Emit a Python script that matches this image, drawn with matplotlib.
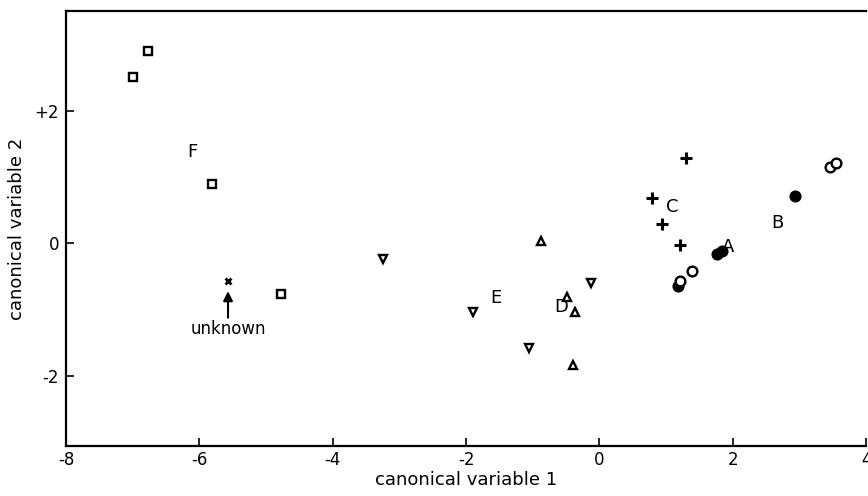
import matplotlib
matplotlib.use("Agg")
import matplotlib.pyplot as plt

matplotlib.rcParams['font.family'] = ['DejaVu Sans']
matplotlib.rcParams['axes.unicode_minus'] = False

# group F: open squares
sq_x = [-6.77, -6.99, -5.81, -4.78]
sq_y = [2.90, 2.51, 0.89, -0.77]

# group E: down triangles
tri_dn_x = [-3.25, -1.89, -1.06, -0.13]
tri_dn_y = [-0.24, -1.04, -1.58, -0.60]

# group D: up triangles
tri_up_x = [-0.87, -0.48, -0.36, -0.40]
tri_up_y = [0.03, -0.81, -1.04, -1.83]

# group C: plus
plus_x = [1.30, 0.78, 0.93, 1.21]
plus_y = [1.29, 0.69, 0.29, -0.02]

# groups A/B: filled and open circles
filled_x = [1.18, 1.76, 1.84, 2.93]
filled_y = [-0.64, -0.16, -0.12, 0.71]
open_x = [1.20, 1.39, 3.45, 3.55]
open_y = [-0.57, -0.42, 1.15, 1.21]

# unknown specimen
unk_x = [-5.57]
unk_y = [-0.57]

# group labels
lab_text = ['F', 'E', 'D', 'C', 'A', 'B']
lab_x = [-6.1, -1.56, -0.57, 1.09, 1.93, 2.66]
lab_y = [1.37, -0.83, -0.96, 0.54, -0.06, 0.30]

fig = plt.figure(figsize=(8.68, 4.96), dpi=100)
ax = fig.add_axes([0.076, 0.101, 0.922, 0.877])

kw = dict(linestyle='none', color='black', markeredgewidth=1.7)
ax.plot(sq_x, sq_y, marker='s', markersize=5.5, markerfacecolor='white', **kw)
ax.plot(tri_dn_x, tri_dn_y, marker='v', markersize=6, markerfacecolor='white', **kw)
ax.plot(tri_up_x, tri_up_y, marker='^', markersize=6, markerfacecolor='white', **kw)
ax.plot(plus_x, plus_y, marker='+', markersize=8, markeredgewidth=2.2,
        linestyle='none', color='black')
ax.plot(filled_x, filled_y, marker='o', markersize=7, markerfacecolor='black', **kw)
ax.plot(open_x, open_y, marker='o', markersize=7, markerfacecolor='white', **kw)
ax.plot(unk_x, unk_y, marker='x', markersize=5, markeredgewidth=2,
        linestyle='none', color='black')

for t, x, y in zip(lab_text, lab_x, lab_y):
    ax.text(x, y, t, fontsize=13, ha='center', va='center')

# arrow pointing at the unknown specimen, label underneath
ax.annotate('', xy=(unk_x[0], unk_y[0] - 0.15),
            xytext=(unk_x[0], unk_y[0] - 0.55),
            arrowprops=dict(arrowstyle='-|>', color='black', lw=1.5,
                            mutation_scale=14, shrinkA=0, shrinkB=0))
ax.text(unk_x[0], unk_y[0] - 0.58, 'unknown', ha='center', va='top', fontsize=12)

ax.set_xlim(-8, 4)
ax.set_ylim(-3.05, 3.5)
ax.set_xticks([-8, -6, -4, -2, 0, 2, 4])
ax.set_yticks([-2, 0, 2])
ax.set_yticklabels(['-2', '0', '+2'])
ax.tick_params(direction='in', length=6, width=1.2, labelsize=12, pad=5)
ax.tick_params(axis='x', pad=4)
ax.spines['right'].set_visible(False)
for s in ['left', 'bottom', 'top']:
    ax.spines[s].set_linewidth(1.6)

ax.set_xlabel('canonical variable 1', fontsize=13, labelpad=1)
ax.set_ylabel('canonical variable 2', fontsize=13, labelpad=6)

fig.savefig('out.png', dpi=100)
